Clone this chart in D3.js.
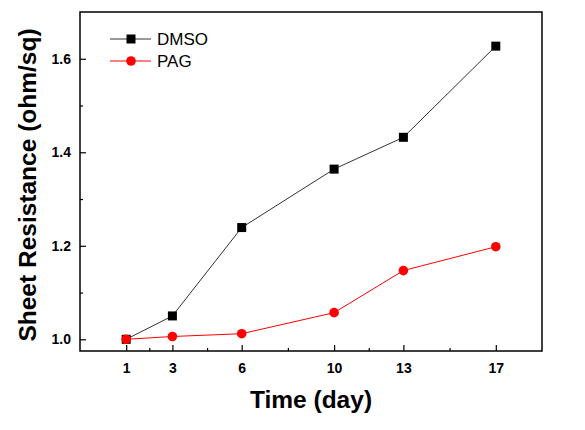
<!DOCTYPE html>
<html><head><meta charset="utf-8">
<script src="https://cdn.jsdelivr.net/npm/d3@7"></script>
<style>body{margin:0;background:#fff}svg{display:block}</style>
</head><body>
<svg id="c" width="585" height="430"></svg>
<script>
const days = [1, 3, 6, 10, 13, 17];
const dmso = [1.000, 1.050, 1.239, 1.364, 1.432, 1.627];
const pag  = [1.000, 1.006, 1.012, 1.057, 1.147, 1.198];
const xTicks = [1, 3, 6, 10, 13, 17];
const xMinorTicks = [2, 4.5, 8, 11.5, 15];
const yTicks = [1.0, 1.2, 1.4, 1.6];
const yMinorTicks = [1.1, 1.3, 1.5];
const seriesNames = ["DMSO", "PAG"];

const svg = d3.select("#c");
const L = 80, R = 542, T = 12, B = 351;
const x = d3.scaleLinear().domain([-1, 19]).range([L, R]);
const y = d3.scaleLinear().domain([0.975, 1.7]).range([B, T]);
const font = "Arial, 'Liberation Sans', sans-serif";

// frame
svg.append("rect").attr("x", L).attr("y", T).attr("width", R - L).attr("height", B - T)
  .attr("fill", "none").attr("stroke", "#000").attr("stroke-width", 1.5);

// x axis ticks (inward)
const xa = svg.append("g").attr("transform", `translate(0,${B})`)
  .call(d3.axisBottom(x).tickValues(xTicks).tickSizeInner(-6).tickSizeOuter(0).tickPadding(12).tickFormat(d3.format("d")));
xa.select(".domain").remove();
xa.selectAll("text").attr("font-family", font).attr("font-size", 14).attr("font-weight", "bold").attr("fill", "#000");
xa.selectAll("line").attr("stroke-width", 1.2);
svg.append("g").attr("transform", `translate(0,${B})`)
  .call(d3.axisBottom(x).tickValues(xMinorTicks).tickSizeInner(-3).tickSizeOuter(0).tickFormat(""))
  .call(g => g.select(".domain").remove()).selectAll("line").attr("stroke-width", 1.2);

// y axis ticks (inward)
const ya = svg.append("g").attr("transform", `translate(${L},0)`)
  .call(d3.axisLeft(y).tickValues(yTicks).tickSizeInner(-6).tickSizeOuter(0).tickPadding(9).tickFormat(d3.format(".1f")));
ya.select(".domain").remove();
ya.selectAll("text").attr("font-family", font).attr("font-size", 14).attr("font-weight", "bold").attr("fill", "#000");
ya.selectAll("line").attr("stroke-width", 1.2);
svg.append("g").attr("transform", `translate(${L},0)`)
  .call(d3.axisLeft(y).tickValues(yMinorTicks).tickSizeInner(-3).tickSizeOuter(0).tickFormat(""))
  .call(g => g.select(".domain").remove()).selectAll("line").attr("stroke-width", 1.2);

// titles
svg.append("text").attr("x", 311).attr("y", 408).attr("text-anchor", "middle")
  .attr("font-family", font).attr("font-size", 24.5).attr("font-weight", "bold").text("Time (day)");
svg.append("text").attr("transform", `translate(36,185) rotate(-90)`).attr("text-anchor", "middle")
  .attr("font-family", font).attr("font-size", 24.5).attr("font-weight", "bold").text("Sheet Resistance (ohm/sq)");

const line = d3.line().x(d => x(d[0])).y(d => y(d[1]));
const series = [
  {name: seriesNames[0], vals: dmso, color: "#000", line: "#333", shape: "square"},
  {name: seriesNames[1], vals: pag, color: "#ff0000", line: "#ff0000", shape: "circle"}
];
function marker(g, s, cx, cy) {
  if (s.shape === "square") g.append("rect").attr("x", cx - 4.5).attr("y", cy - 4.5).attr("width", 9).attr("height", 9).attr("fill", s.color);
  else g.append("circle").attr("cx", cx).attr("cy", cy).attr("r", 4.8).attr("fill", s.color);
}
series.forEach(s => {
  const pts = days.map((d, i) => [d, s.vals[i]]);
  svg.append("path").attr("d", line(pts)).attr("fill", "none").attr("stroke", s.line).attr("stroke-width", 1);
  const g = svg.append("g");
  pts.forEach(p => marker(g, s, x(p[0]), y(p[1])));
});

// legend
series.forEach((s, i) => {
  const ly = 39 + i * 22;
  svg.append("line").attr("x1", 110).attr("x2", 151).attr("y1", ly).attr("y2", ly).attr("stroke", s.line).attr("stroke-width", 1);
  marker(svg, s, 131, ly);
  svg.append("text").attr("x", 157).attr("y", ly + 6).attr("font-family", font).attr("font-size", 17).text(s.name);
});
</script>
</body></html>
